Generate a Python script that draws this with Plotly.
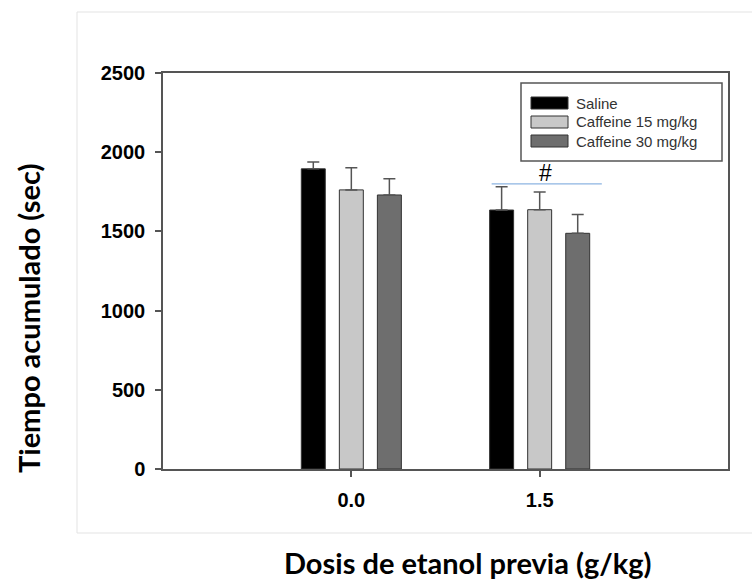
import plotly.graph_objects as go

# ---- data ----
dose_labels = ["0.0", "1.5"]
series_names = ["Saline", "Caffeine 15 mg/kg", "Caffeine 30 mg/kg"]
series_colors = ["#000000", "#c8c8c8", "#6e6e6e"]
means = [
    [1895, 1635],   # Saline
    [1762, 1637],   # Caffeine 15
    [1730, 1488],   # Caffeine 30
]
sems = [
    [43, 147],
    [140, 112],
    [103, 118],
]
sig_level = 1800
y_ticks = [0, 500, 1000, 1500, 2000, 2500]

W, H = 752, 583
L, R, T, B = 163, 24, 73, 114
pw, ph = W - L - R, H - T - B


def px_x(p):
    return (p - L) / pw


def px_y(p):
    return (H - B - p) / ph


xpos = list(range(len(dose_labels)))

fig = go.Figure()
for name, col, m, e in zip(series_names, series_colors, means, sems):
    fig.add_trace(go.Bar(
        x=xpos, y=m, name=name,
        marker=dict(color=col, line=dict(color="#333333", width=1)),
        error_y=dict(type="data", array=e, arrayminus=[0] * len(e), symmetric=False,
                     color="#555555", thickness=1.5, width=6),
        showlegend=False,
    ))

# significance line and mark
fig.add_shape(type="line", xref="x", yref="y", x0=xpos[1] - 0.255, x1=xpos[1] + 0.33,
              y0=sig_level, y1=sig_level, line=dict(color="#8db4e2", width=1.3))
fig.add_annotation(x=xpos[1] + 0.03, y=sig_level, yanchor="bottom", xanchor="center", text="#",
                   showarrow=False,
                   font=dict(family="Liberation Sans, Arial", size=23, color="#000000"), yshift=-4)

# manual legend
fig.add_shape(type="rect", xref="paper", yref="paper", x0=px_x(521), x1=px_x(722),
              y0=px_y(161), y1=px_y(83), line=dict(color="#555555", width=1.5),
              fillcolor="white", layer="above")
item_y = [103, 122, 141]
for name, col, yy in zip(series_names, series_colors, item_y):
    fig.add_shape(type="rect", xref="paper", yref="paper", x0=px_x(531), x1=px_x(568),
                  y0=px_y(yy + 6), y1=px_y(yy - 6), line=dict(color="#333333", width=1),
                  fillcolor=col, layer="above")
    fig.add_annotation(xref="paper", yref="paper", x=px_x(574), y=px_y(yy), xanchor="left",
                       yanchor="middle", text=name, showarrow=False,
                       font=dict(family="Liberation Sans, Arial", size=15, color="#333333"))

# outer light frame
fig.add_shape(type="rect", xref="paper", yref="paper", x0=px_x(77), x1=px_x(800),
              y0=px_y(533), y1=px_y(12), line=dict(color="#e3e3e3", width=1), layer="below")

# axis titles
fig.add_annotation(xref="paper", yref="paper", x=px_x(28), y=px_y(318), xanchor="center",
                   yanchor="middle", text="Tiempo acumulado (sec)",
                   textangle=-90, showarrow=False,
                   font=dict(family="Lato", size=29, color="#000000", weight="bold"))
fig.add_annotation(xref="paper", yref="paper", x=px_x(468), y=px_y(562), xanchor="center",
                   yanchor="middle", text="Dosis de etanol previa (g/kg)",
                   showarrow=False,
                   font=dict(family="Lato", size=29, color="#000000", weight="bold"))

fig.update_layout(
    width=W, height=H,
    margin=dict(l=L, r=R, t=T, b=B),
    paper_bgcolor="white", plot_bgcolor="white",
    barmode="group", bargap=0.394, bargroupgap=0.37,
)
fig.update_xaxes(
    range=[-1, 2], tickvals=xpos, ticktext=dose_labels,
    showline=True, linecolor="#555555", linewidth=1.5, mirror=True,
    ticks="outside", ticklen=6, tickcolor="#555555", tickwidth=1.5,
    showgrid=False, zeroline=False, ticklabelstandoff=6,
    tickfont=dict(family="Liberation Sans, Arial", size=20, color="#000000", weight="bold"),
)
fig.update_yaxes(
    range=[0, 2500], tickvals=y_ticks,
    showline=True, linecolor="#555555", linewidth=1.5, mirror=True,
    ticks="outside", ticklen=6, tickcolor="#555555", tickwidth=1.5,
    showgrid=False, zeroline=False, ticklabelstandoff=6,
    tickfont=dict(family="Liberation Sans, Arial", size=20, color="#000000", weight="bold"),
)

fig.write_html("out.html")
